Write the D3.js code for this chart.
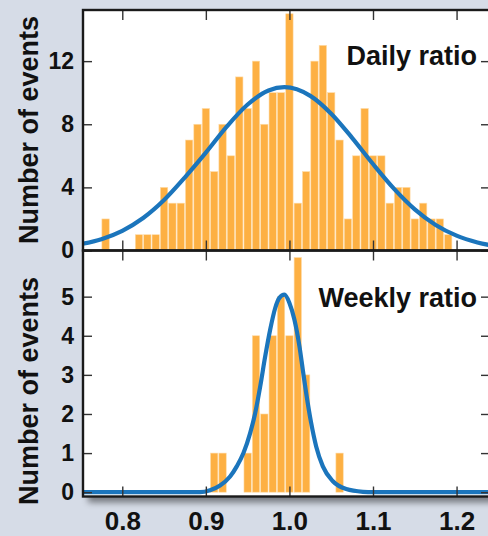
<!DOCTYPE html>
<html>
<head>
<meta charset="utf-8">
<script src="https://cdn.jsdelivr.net/npm/d3@7"></script>
<style>
  body { margin: 0; background: #d6dce7; }
  svg { display: block; font-family: "Liberation Sans", Arial, sans-serif; font-weight: bold; }
  .tick line { stroke: #333; stroke-width: 1.4; }
</style>
</head>
<body>
<svg id="chart"></svg>
<script>
const W = 488, H = 536;

// histogram bins (ratio) and counts
const dailyBins = [0.78, 0.79, 0.80, 0.81, 0.82, 0.83, 0.84, 0.85, 0.86, 0.87, 0.88, 0.89,
  0.90, 0.91, 0.92, 0.93, 0.94, 0.95, 0.96, 0.97, 0.98, 0.99, 1.00, 1.01, 1.02, 1.03,
  1.04, 1.05, 1.06, 1.07, 1.08, 1.09, 1.10, 1.11, 1.12, 1.13, 1.14, 1.15, 1.16, 1.17,
  1.18, 1.19];
const dailyCounts = [2, 0, 0, 0, 1, 1, 1, 4, 3, 3, 7, 8,
  9, 5, 8, 6, 11, 9, 12, 8, 10, 10, 15, 3, 5, 12,
  13, 10, 7, 2, 6, 9, 6, 6, 3, 4, 4, 2, 3, 2,
  2, 1];

const weeklyBins = [0.91, 0.92, 0.95, 0.96, 0.97, 0.98, 0.99, 1.00, 1.01, 1.02, 1.06];
const weeklyCounts = [1, 1, 1, 4, 2, 4, 5, 4, 6, 3, 1];

// fitted curves
const dailyFitX = [0.75, 0.775, 0.8, 0.825, 0.85, 0.875, 0.9, 0.925, 0.95, 0.975, 0.994,
  1.025, 1.05, 1.075, 1.1, 1.125, 1.15, 1.175, 1.2, 1.225, 1.25];
const dailyFitY = [0.4, 0.72, 1.25, 2.06, 3.2, 4.64, 6.2, 7.85, 9.25, 10.14, 10.35,
  9.8, 8.67, 7.14, 5.48, 3.92, 2.61, 1.62, 0.94, 0.51, 0.25];

const weeklyFitX = [0.75, 0.88, 0.893, 0.905, 0.917, 0.929, 0.937, 0.945, 0.953, 0.959,
  0.965, 0.971, 0.977, 0.983, 0.988, 0.994, 1.0, 1.006, 1.012, 1.016, 1.02, 1.026,
  1.032, 1.04, 1.052, 1.068, 1.088, 1.1, 1.25];
const weeklyFitY = [0, 0, 0, 0.05, 0.17, 0.4, 0.66, 1.0, 1.51, 2.02,
  2.7, 3.47, 4.16, 4.71, 4.97, 5.05, 4.84, 4.41, 3.73, 3.13, 2.54, 1.77,
  1.17, 0.66, 0.28, 0.08, 0.01, 0, 0];

const xTicks = [0.8, 0.9, 1.0, 1.1, 1.2];
const dailyTicks = [0, 4, 8, 12];
const weeklyTicks = [0, 1, 2, 3, 4, 5];

const binWidth = 0.01;
const frameLeft = 83, frameRight = 490, frameTop = 10, frameMid = 250.5, frameBottom = 496.5;

const svg = d3.select("#chart").attr("width", W).attr("height", H);

const defs = svg.append("defs");
const shadow = defs.append("filter").attr("id", "shadow")
  .attr("x", "-10%").attr("y", "-10%").attr("width", "130%").attr("height", "130%");
shadow.append("feDropShadow")
  .attr("dx", 5).attr("dy", 6).attr("stdDeviation", 3)
  .attr("flood-color", "#000").attr("flood-opacity", 0.45);

svg.append("rect").attr("width", W).attr("height", H).attr("fill", "#d6dce7");

svg.append("rect")
  .attr("x", frameLeft).attr("y", frameTop)
  .attr("width", frameRight - frameLeft).attr("height", frameBottom - frameTop)
  .attr("fill", "#fff")
  .attr("filter", "url(#shadow)");

const x = d3.scaleLinear().domain([0.753, 1.24]).range([frameLeft, frameRight]);
const yDaily = d3.scaleLinear().domain([0, 15.24]).range([frameMid, frameTop]);
const yWeekly = d3.scaleLinear().domain([-0.11, 6.18]).range([frameBottom, frameMid]);

function panel(id, y0, y1, y, bins, counts, fitX, fitY, ticks, label, labelY, titleY) {
  const g = svg.append("g");

  defs.append("clipPath").attr("id", id)
    .append("rect")
    .attr("x", frameLeft).attr("y", y0)
    .attr("width", frameRight - frameLeft).attr("height", y1 - y0);

  const plot = g.append("g").attr("clip-path", "url(#" + id + ")");

  plot.selectAll("rect.bar")
    .data(bins.map((b, i) => ({ bin: b, count: counts[i] })).filter((d) => d.count > 0))
    .enter()
    .append("rect")
    .attr("class", "bar")
    .attr("x", (d) => x(d.bin - binWidth / 2) + 0.5)
    .attr("width", (d) => x(d.bin + binWidth / 2) - x(d.bin - binWidth / 2) - 1)
    .attr("y", (d) => y(d.count))
    .attr("height", (d) => y(0) - y(d.count))
    .attr("fill", "#fdb043")
    .attr("stroke", "#fedcaa")
    .attr("stroke-width", 0.6);

  const line = d3.line()
    .x((d) => x(d[0]))
    .y((d) => y(d[1]))
    .curve(d3.curveMonotoneX);

  plot.append("path")
    .datum(fitX.map((v, i) => [v, fitY[i]]))
    .attr("d", line)
    .attr("fill", "none")
    .attr("stroke", "#1b75bc")
    .attr("stroke-width", 4.2);

  // ticks on all four sides, pointing inwards
  g.append("g")
    .attr("transform", "translate(0," + y0 + ")")
    .call(d3.axisTop(x).tickValues(xTicks).tickSize(-10).tickFormat(""))
    .call((s) => s.select(".domain").remove());

  g.append("g")
    .attr("transform", "translate(0," + y1 + ")")
    .call(d3.axisBottom(x).tickValues(xTicks).tickSize(-10).tickFormat(""))
    .call((s) => s.select(".domain").remove());

  g.append("g")
    .attr("transform", "translate(" + frameLeft + ",0)")
    .call(d3.axisLeft(y).tickValues(ticks).tickSize(-9).tickPadding(9).tickFormat(d3.format("d")))
    .call((s) => s.select(".domain").remove())
    .call((s) => s.selectAll("text").attr("fill", "#111").style("font-size", "23px"));

  g.append("g")
    .attr("transform", "translate(" + frameRight + ",0)")
    .call(d3.axisRight(y).tickValues(ticks).tickSize(-9).tickFormat(""))
    .call((s) => s.select(".domain").remove());

  g.append("text")
    .attr("x", 477).attr("y", labelY)
    .attr("text-anchor", "end")
    .attr("fill", "#111")
    .style("font-size", "27px")
    .text(label);

  g.append("text")
    .attr("transform", "translate(38," + titleY + ") rotate(-90)")
    .attr("text-anchor", "middle")
    .attr("fill", "#111")
    .style("font-size", "27px")
    .text("Number of events");

  return g;
}

panel("clipDaily", frameTop, frameMid, yDaily, dailyBins, dailyCounts, dailyFitX, dailyFitY,
  dailyTicks, "Daily ratio", 65, 130);
panel("clipWeekly", frameMid, frameBottom, yWeekly, weeklyBins, weeklyCounts, weeklyFitX, weeklyFitY,
  weeklyTicks, "Weekly ratio", 307, 391);

// x tick labels under the lower panel
svg.append("g")
  .attr("transform", "translate(0," + frameBottom + ")")
  .call(d3.axisBottom(x).tickValues(xTicks).tickSize(0).tickPadding(15).tickFormat(d3.format(".1f")))
  .call((s) => s.select(".domain").remove())
  .call((s) => s.selectAll("text").attr("fill", "#111").style("font-size", "26px"));

// frames
svg.selectAll("rect.frame")
  .data([[frameTop, frameMid], [frameMid, frameBottom]])
  .enter()
  .append("rect")
  .attr("class", "frame")
  .attr("x", frameLeft).attr("y", (d) => d[0])
  .attr("width", frameRight - frameLeft).attr("height", (d) => d[1] - d[0])
  .attr("fill", "none")
  .attr("stroke", "#1a1a1a")
  .attr("stroke-width", 2.4);
</script>
</body>
</html>
